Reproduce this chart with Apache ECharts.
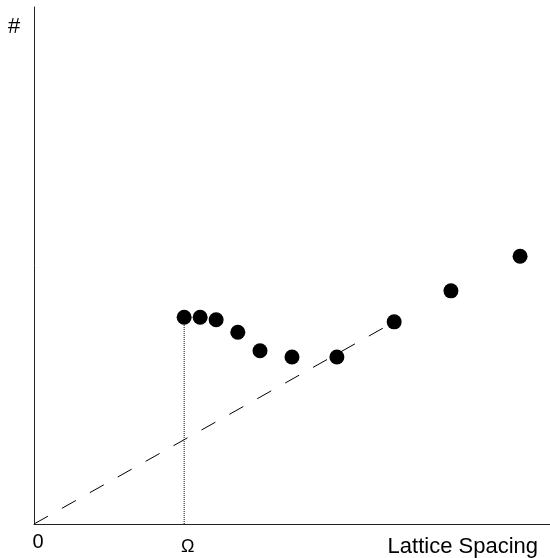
<!DOCTYPE html>
<html>
<head>
<meta charset="utf-8">
<script src="https://cdn.jsdelivr.net/npm/echarts@6/dist/echarts.min.js"></script>
<style>
  html, body { margin: 0; padding: 0; background: #fff; }
  #chart { width: 550px; height: 558px; }
</style>
</head>
<body>
<div id="chart"></div>
<script>
// Measured points: lattice spacing vs. count
var spacing = [29.1, 32.2, 35.3, 39.5, 43.8, 50.0, 58.7, 69.8, 80.8, 94.2];
var counts  = [40.0, 40.0, 39.5, 37.1, 33.5, 32.3, 32.3, 39.1, 45.1, 51.8];

// Special spacing Omega and the reference line through the origin
var omega = 29.1;
var trendFrom = [0, 0];
var trendTo = [69.8, 39.1];

// Tick labels on the x axis
var tickValues = [0, omega];
var tickLabels = ['0', 'Ω'];

var xName = 'Lattice Spacing';
var yName = '#';

var chart = echarts.init(document.getElementById('chart'));

chart.setOption({
  animation: false,
  backgroundColor: '#ffffff',
  grid: { left: 34, right: 0, top: 7, bottom: 34, containLabel: false },
  xAxis: {
    type: 'value',
    min: 0,
    max: 100,
    axisLine: { show: true, onZero: false, lineStyle: { color: '#222', width: 1 } },
    axisTick: { show: false },
    splitLine: { show: false },
    axisLabel: {
      customValues: tickValues,
      margin: 8,
      fontFamily: 'Liberation Sans, Arial, sans-serif',
      color: '#000',
      formatter: function (v) {
        var i = tickValues.indexOf(v);
        if (i === 0) return '{z|' + tickLabels[0] + '}';
        if (i === 1) return '{o|' + tickLabels[1] + '}';
        return '';
      },
      rich: {
        z: { fontSize: 20, padding: [0, 0, 0, 8], fontFamily: 'Liberation Sans, Arial, sans-serif', color: '#000' },
        o: { fontSize: 18, padding: [6, 0, 0, 7], fontFamily: 'Liberation Sans, Arial, sans-serif', color: '#000' }
      }
    }
  },
  yAxis: {
    type: 'value',
    min: 0,
    max: 100,
    axisLine: { show: true, onZero: false, lineStyle: { color: '#222', width: 1 } },
    axisTick: { show: false },
    splitLine: { show: false },
    axisLabel: { show: false }
  },
  graphic: [
    {
      type: 'text',
      left: 8, top: 16,
      style: { text: yName, fontSize: 22, fontFamily: 'Liberation Sans, Arial, sans-serif', fill: '#000' }
    },
    {
      type: 'text',
      right: 12, top: 536,
      style: { text: xName, fontSize: 22, fontFamily: 'Liberation Sans, Arial, sans-serif', fill: '#000' }
    }
  ],
  series: [
    {
      // dashed reference line from the origin
      type: 'line',
      data: [trendFrom, trendTo],
      symbol: 'none',
      silent: true,
      lineStyle: { color: '#000', width: 1, type: [16, 16] },
      z: 1
    },
    {
      // dotted drop line at Omega
      type: 'line',
      data: [[omega, 0], [omega, counts[0]]],
      symbol: 'none',
      silent: true,
      lineStyle: { color: '#000', width: 1, type: [1, 1] },
      z: 1
    },
    {
      type: 'scatter',
      data: spacing.map(function (x, i) { return [x, counts[i]]; }),
      symbol: 'circle',
      symbolSize: 15,
      itemStyle: { color: '#000', opacity: 1 },
      z: 3
    }
  ]
});
</script>
</body>
</html>
